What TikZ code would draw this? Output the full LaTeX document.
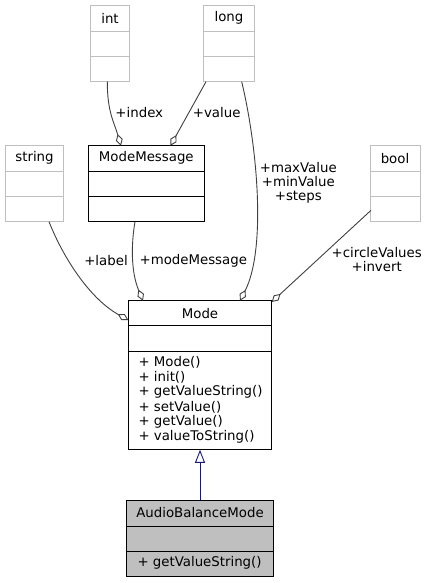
\documentclass[tikz,border=0pt]{standalone}
\usepackage{fontspec}
\setmainfont{DejaVu Sans}
\usetikzlibrary{arrows.meta,calc}
\definecolor{edgegray}{HTML}{404040}
\definecolor{boxgray}{HTML}{BFBFBF}
\definecolor{navyline}{HTML}{191970}
\tikzset{
  txt/.style={inner sep=0pt,font=\fontsize{13.33}{14.1}\selectfont},
  typebox/.style={draw=boxgray,line width=1pt,fill=white,inner sep=0pt},
  classbox/.style={draw=black,line width=1pt,fill=white,inner sep=0pt},
  hlbox/.style={draw=black,line width=1pt,fill=boxgray,inner sep=0pt},
  member/.style={draw=edgegray,line width=0.9pt,-{Diamond[open,length=12pt,width=7pt]}},
  inherit/.style={draw=navyline,line width=0.9pt,-{Triangle[open,length=13pt,width=10pt]}},
}
\begin{document}
\begin{tikzpicture}[x=1pt,y=-1pt]
\useasboundingbox (0,0) rectangle (427,583);
% type boxes
\node[typebox,minimum width=38.6pt,minimum height=76.4pt] (int) at (110,43.5) {};
\draw[boxgray,line width=1pt] (90.7,31.3) -- (129.3,31.3) (90.7,56.7) -- (129.3,56.7);
\node[txt] (intT) at (110,18.3) {int};
\node[typebox,minimum width=50.6pt,minimum height=76.4pt] (long) at (229,43.5) {};
\draw[boxgray,line width=1pt] (203.7,31.3) -- (254.3,31.3) (203.7,56.7) -- (254.3,56.7);
\node[txt] (longT) at (229,18.3) {long};
\node[typebox,minimum width=58.4pt,minimum height=76pt] (string) at (34.5,183.7) {};
\draw[boxgray,line width=1pt] (5.3,171.7) -- (63.7,171.7) (5.3,196.7) -- (63.7,196.7);
\node[txt] (stringT) at (34.5,158.2) {string};
\node[typebox,minimum width=50pt,minimum height=76pt] (bool) at (395,183.7) {};
\draw[boxgray,line width=1pt] (370,171.7) -- (420,171.7) (370,196.7) -- (420,196.7);
\node[txt] (boolT) at (395,158.2) {bool};
% ModeMessage
\node[classbox,minimum width=116pt,minimum height=76pt] (mm) at (146.3,183.7) {};
\draw[black,line width=1pt] (88.3,171.7) -- (204.3,171.7) (88.3,196.7) -- (204.3,196.7);
\node[txt] (mmT) at (146.3,158.2) {ModeMessage};
% Mode
\node[classbox,minimum width=143.4pt,minimum height=148.6pt] (mode) at (200,375) {};
\draw[black,line width=1pt] (128.3,325.7) -- (271.7,325.7) (128.3,351.3) -- (271.7,351.3);
\node[txt] (modeT) at (200,313.2) {Mode};
\node[txt,anchor=west] (m1) at (138.3,362.3) {+ Mode()};
\node[txt,anchor=west] (m2) at (138.3,377.2) {+ init()};
\node[txt,anchor=west] (m3) at (138.3,392.1) {+ getValueString()};
\node[txt,anchor=west] (m4) at (138.3,407.0) {+ setValue()};
\node[txt,anchor=west] (m5) at (138.3,421.9) {+ getValue()};
\node[txt,anchor=west] (m6) at (138.3,436.8) {+ valueToString()};
% AudioBalanceMode
\node[hlbox,minimum width=146.6pt,minimum height=75.3pt] (abm) at (200,538.35) {};
\draw[black,line width=1pt] (126.7,526) -- (273.3,526) (126.7,551.7) -- (273.3,551.7);
\node[txt] (abmT) at (200,513) {AudioBalanceMode};
\node[txt,anchor=west] (a1) at (137.3,563.2) {+ getValueString()};
% edges
\coordinate (intS) at (107.3,81.7);
\coordinate (mmTopL) at (121,145.7);
\draw[member] (intS) .. controls (107.3,112) and (114,122) .. (mmTopL);
\coordinate (longS1) at (206,81.7);
\coordinate (mmTopR) at (170.5,145.7);
\draw[member] (longS1) -- (mmTopR);
\coordinate (longS2) at (241.7,81.7);
\coordinate (modeTopR) at (240,300.7);
\draw[member] (longS2) .. controls (258,150) and (266,250) .. (modeTopR);
\coordinate (stringS) at (49,221.7);
\coordinate (modeW) at (128.3,320);
\draw[member] (stringS) .. controls (65,262) and (92,300) .. (modeW);
\coordinate (mmS) at (135,221.7);
\coordinate (modeTopL) at (143,300.7);
\draw[member] (mmS) .. controls (131,245) and (131,272) .. (modeTopL);
\coordinate (boolW) at (371,210.3);
\coordinate (modeNE) at (271.7,302);
\draw[member] (boolW) -- (modeNE);
\draw[inherit] (abm.north) -- (mode.south);
% edge labels
\node[txt] (lindex) at (139.3,112.7) {+index};
\node[txt] (lvalue) at (216.7,112.7) {+value};
\node[txt,align=center] (lmax) at (298.3,183) {+maxValue\\+minValue\\+steps};
\node[txt] (llabel) at (106,260.7) {+label};
\node[txt] (lmm) at (193.3,260.7) {+modeMessage};
\node[txt,align=center] (lcirc) at (376.7,259.8) {+circleValues\\+invert};
\end{tikzpicture}
\end{document}
